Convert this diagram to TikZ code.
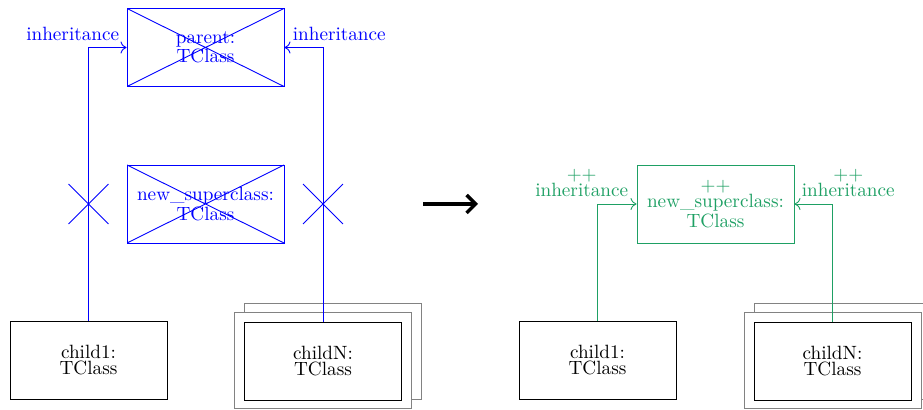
\documentclass[tikz,border=0pt]{standalone}
\usetikzlibrary{arrows.meta,shapes.misc}
\definecolor{grn}{RGB}{30,160,100}
\definecolor{shgray}{RGB}{130,130,130}
\begin{document}
\begin{tikzpicture}[x=0.5pt,y=-0.5pt,
  font=\fontsize{9.6}{8}\selectfont,
  lw/.style={line width=0.45pt},
  cls/.style={draw, lw, fill=white, minimum width=78.5pt, minimum height=39pt, align=center, inner sep=0pt},
  crossed/.style={path picture={\draw[lw] (path picture bounding box.north west) -- (path picture bounding box.south east) (path picture bounding box.north east) -- (path picture bounding box.south west);}},
  bluecls/.style={cls, draw=blue, text=blue, crossed},
  grncls/.style={cls, draw=grn, text=grn},
  shadowbox/.style={draw=shgray, lw, fill=white, minimum width=88.5pt, minimum height=48pt, inner sep=0pt},
  xmark/.style={cross out, draw=blue, lw, minimum size=19.5pt, inner sep=0pt},
  conn/.style={lw, -{To[length=3pt,width=6pt]}},
  lbl/.style={inner sep=0pt, align=center}
]
\useasboundingbox (0,0) rectangle (923,410);
\clip (0,0) rectangle (923,410);

% ---------- left half ----------
\node[bluecls] (parent) at (205.5,47.5) {parent:\\TClass};
\node[bluecls] (nsup) at (205.5,204) {new\_superclass:\\TClass};
\node[cls] (child1) at (88.5,360.5) {child1:\\TClass};
\node[shadowbox] (nback) at (333,351) {};
\node[shadowbox] (nfront) at (323,360.5) {};
\node[cls] (childN) at (323,361) {childN:\\TClass};

\draw[conn, color=blue] (child1.north) |- (parent.west);
\draw[conn, color=blue] (childN.north) |- (parent.east);

\node[xmark] (x1) at (child1.north |- nsup.center) {};
\node[xmark] (x2) at (childN.north |- nsup.center) {};

\node[lbl, text=blue, anchor=south east] (l1) at ([shift={(-7,-6)}]parent.west) {inheritance};
\node[lbl, text=blue, anchor=south west] (l2) at ([shift={(8,-6)}]parent.east) {inheritance};

% ---------- big arrow ----------
\coordinate (a1) at (423,204);
\coordinate (a2) at (478,204);
\draw[line width=1.75pt, -{Straight Barb[length=4.5pt,width=9pt]}] (a1) -- (a2);

% ---------- right half ----------
\node[grncls] (gsup) at (715.5,204) {++\\new\_superclass:\\TClass};
\node[cls] (rchild1) at (597.5,360.5) {child1:\\TClass};
\node[shadowbox] (rnback) at (842.5,351) {};
\node[shadowbox] (rnfront) at (832.5,360.5) {};
\node[cls] (rchildN) at (832.5,361) {childN:\\TClass};

\draw[conn, color=grn] (rchild1.north) |- (gsup.west);
\draw[conn, color=grn] (rchildN.north) |- (gsup.east);

\node[lbl, text=grn, anchor=south east] (g1) at ([shift={(-8,-7)}]gsup.west) {++\\inheritance};
\node[lbl, text=grn, anchor=south west] (g2) at ([shift={(7,-7)}]gsup.east) {++\\inheritance};
\end{tikzpicture}
\end{document}
